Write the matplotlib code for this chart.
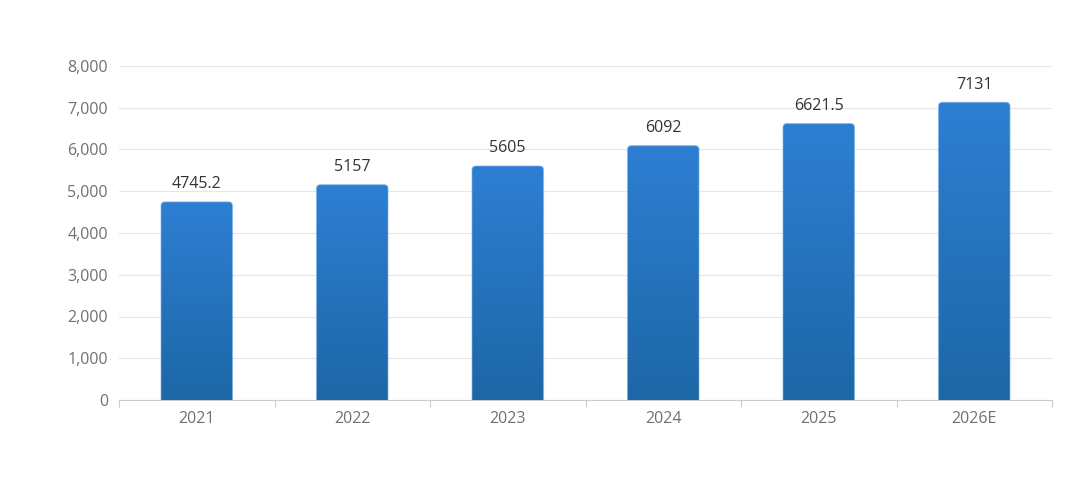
import numpy as np
import matplotlib.pyplot as plt
from matplotlib.patches import FancyBboxPatch
from matplotlib.colors import LinearSegmentedColormap

plt.rcParams['font.family'] = ['Open Sans', 'DejaVu Sans']

# data
years = ['2021', '2022', '2023', '2024', '2025', '2026E']
values = [4745.2, 5157, 5605, 6092, 6621.5, 7131]
labels = ['4745.2', '5157', '5605', '6092', '6621.5', '7131']
yticks = [0, 1000, 2000, 3000, 4000, 5000, 6000, 7000, 8000]

W, H, DPI = 1080, 487, 100
fig = plt.figure(figsize=(W / DPI, H / DPI), dpi=DPI)
ax = fig.add_axes([119 / W, 1 - 400 / H, (1052 - 119) / W, (400 - 66) / H])

x = np.arange(len(years))
bw = 0.46
bars = ax.bar(x, values, width=bw, color='none', zorder=3)
ax.set_xlim(-0.5, len(years) - 0.5)
ax.set_ylim(0, 8000)

cmap = LinearSegmentedColormap.from_list('blues', ['#1d67a6', '#2e7fd4'])
grad = np.linspace(0, 1, 256).reshape(-1, 1)

# rounded top corners: radius in px converted to data units
px_x = (1052 - 119) / len(years)
px_y = (400 - 66) / 8000
r = 4
rx = r / px_x
ry = r / px_y
for b, v in zip(bars, values):
    x0 = b.get_x()
    w = b.get_width()
    clip = FancyBboxPatch((x0, -500), w, v + 500,
                          boxstyle=f"round,pad=0,rounding_size={rx}",
                          mutation_aspect=ry / rx, transform=ax.transData,
                          facecolor='none', edgecolor='none')
    ax.add_patch(clip)
    im = ax.imshow(grad, cmap=cmap, origin='lower', aspect='auto',
                   extent=(x0, x0 + w, 0, v), zorder=3, interpolation='bilinear')
    im.set_clip_path(clip)
    edge = FancyBboxPatch((x0, -500), w, v + 500,
                          boxstyle=f"round,pad=0,rounding_size={rx}",
                          mutation_aspect=ry / rx, transform=ax.transData,
                          facecolor='none', edgecolor='#7fb3e6', linewidth=0.8,
                          zorder=4, alpha=0.6)
    ax.add_patch(edge)
    edge.set_clip_box(ax.bbox)

for xi, v, lab in zip(x, values, labels):
    ax.annotate(lab, (xi, v), xytext=(0, 7), textcoords='offset points',
                ha='center', va='bottom', fontsize=11.5, color='#333333', zorder=5)

ax.set_xlim(-0.5, len(years) - 0.5)
ax.set_ylim(0, 8000)
ax.set_yticks(yticks)
ax.set_yticklabels([f'{t:,}' for t in yticks])
ax.grid(axis='y', color='#e6e6e6', linewidth=0.8, zorder=0)
ax.set_axisbelow(True)

ax.set_xticks(x)
ax.set_xticklabels(years)
ax.set_xticks(np.arange(len(years) + 1) - 0.5, minor=True)
ax.tick_params(axis='x', which='major', length=0, pad=8, labelsize=11.5, labelcolor='#6e7079')
ax.tick_params(axis='x', which='minor', length=5, color='#cccccc', width=0.8)
ax.tick_params(axis='y', length=0, pad=8, labelsize=11.5, labelcolor='#6e7079')

for s in ['top', 'right', 'left']:
    ax.spines[s].set_visible(False)
ax.spines['bottom'].set_color('#cccccc')
ax.spines['bottom'].set_linewidth(0.8)

fig.savefig('out.png', dpi=DPI)
